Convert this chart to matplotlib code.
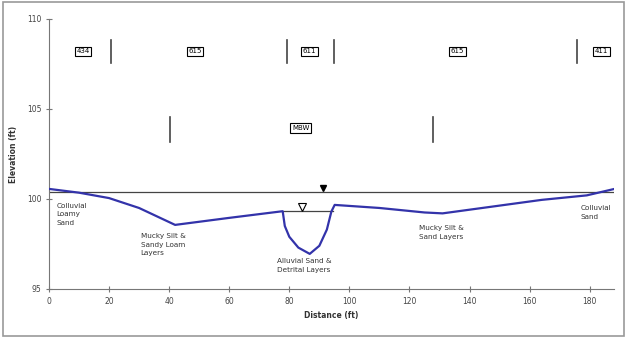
import matplotlib
matplotlib.use('Agg')
import matplotlib.pyplot as plt
from matplotlib.patches import Rectangle

# ground profile (distance ft, elevation ft)
dist = [0, 10, 20, 30, 42, 60, 77.8, 78.5, 80, 83, 86.8, 90, 92.5, 94, 95.1,
        110, 125, 131, 142, 164, 179, 188]
elev = [100.56, 100.35, 100.05, 99.5, 98.56, 98.95, 99.32, 98.5, 97.9, 97.3, 96.95,
        97.4, 98.3, 99.3, 99.67, 99.5, 99.25, 99.2, 99.45, 99.95, 100.2, 100.55]

wl_high = 100.4          # regional water level
wl_low = 99.33           # channel water level
wl_low_x = [77.8, 94.6]

# top row of section markers
upper_div_x = [20.6, 79.2, 94.8, 175.6]
upper_labels = ['434', '615', '611', '615', '411']
upper_label_x = [11.3, 48.6, 86.8, 136, 184]
# second row
lower_div_x = [40.3, 127.7]
lower_labels = ['MBW']
lower_label_x = [83.8]

layer_text = ['Colluvial\nLoamy\nSand', 'Mucky Silt &\nSandy Loam\nLayers',
              'Alluvial Sand &\nDetrital Layers', 'Mucky Silt &\nSand Layers',
              'Colluvial\nSand']
layer_x = [2.5, 30.5, 76, 123, 177]
layer_y = [99.8, 98.1, 96.7, 98.55, 99.65]

plt.rcParams['font.family'] = 'DejaVu Sans'
fig = plt.figure(figsize=(6.27, 3.38), dpi=100)
fig.patches.append(Rectangle((0.004, 0.006), 0.992, 0.988, transform=fig.transFigure,
                             fill=False, edgecolor='#999999', lw=1.2))
ax = fig.add_axes([0.078, 0.145, 0.901, 0.799])

ax.plot(dist, elev, color='#3333aa', lw=1.6, zorder=3)
ax.plot([0, 188], [wl_high, wl_high], color='#444444', lw=0.9)
ax.plot(wl_low_x, [wl_low, wl_low], color='#444444', lw=0.9)
ax.plot([91.2], [wl_high + 0.22], marker='v', color='black', ms=5, ls='none')
ax.plot([84.2], [wl_low + 0.25], marker='v', mfc='white', mec='black', ms=6, mew=0.8, ls='none')

for x in upper_div_x:
    ax.plot([x, x], [107.56, 108.83], color='#444444', lw=1.2)
for x in lower_div_x:
    ax.plot([x, x], [103.17, 104.56], color='#444444', lw=1.2)
box = dict(boxstyle='square,pad=0.25', fc='white', ec='black', lw=0.8)
for x, t in zip(upper_label_x, upper_labels):
    ax.text(x, 108.2, t, fontsize=5, ha='center', va='center', bbox=box)
for x, t in zip(lower_label_x, lower_labels):
    ax.text(x, 103.94, t, fontsize=5, ha='center', va='center', bbox=box)

for x, y, t in zip(layer_x, layer_y, layer_text):
    ax.text(x, y, t, fontsize=5.2, ha='left', va='top', color='#333333', linespacing=1.5)

ax.set_xlim(0, 188)
ax.set_ylim(95, 110)
ax.set_xticks(range(0, 181, 20))
ax.set_yticks([95, 100, 105, 110])
ax.spines['top'].set_visible(False)
ax.spines['right'].set_visible(False)
for s in ['left', 'bottom']:
    ax.spines[s].set_color('#777777')
ax.tick_params(direction='inout', length=4, width=0.8, colors='#777777', labelsize=5.5,
               labelcolor='#444444')
ax.set_xlabel('Distance (ft)', fontsize=5.5, fontweight='bold', color='#333333', labelpad=4)
ax.set_ylabel('Elevation (ft)', fontsize=5.5, fontweight='bold', color='#333333')
ax.yaxis.set_label_coords(-0.055, 0.5)

fig.savefig('out.png', dpi=100)
